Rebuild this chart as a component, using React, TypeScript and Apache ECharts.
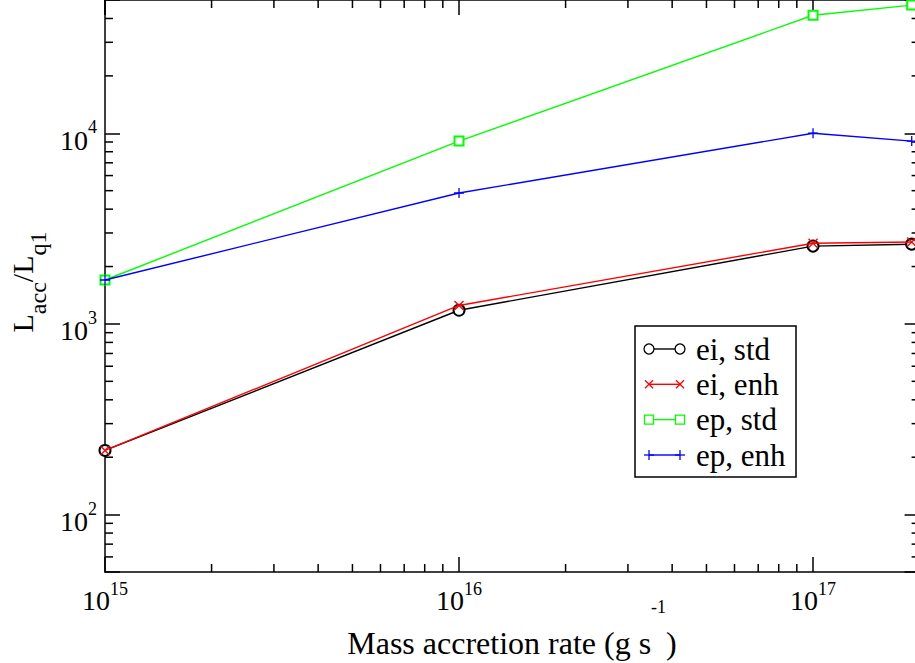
import React, { useEffect, useRef } from "react";
import * as echarts from "echarts";

// ---- data ----
const seriesNames = ["ei, std", "ei, enh", "ep, std", "ep, enh"];
const seriesColors = ["#000000", "#ff0000", "#00ff00", "#0000ff"];
const seriesSymbols = ["circle", "cross", "square", "plus"];
const massRates = [1e15, 1e16, 1e17, 1.9e17];
const eiStd = [217, 1180, 2560, 2620];
const eiEnh = [217, 1250, 2650, 2690];
const epStd = [1700, 9100, 41600, 47000];
const epEnh = [1700, 4860, 10000, 9100];
const seriesValues = [eiStd, eiEnh, epStd, epEnh];

const X_MIN = 1e15;
const X_MAX = 2e17;
const Y_MIN = 50;
const Y_MAX = 50000;
const xMinorTicks = [
  2e15, 3e15, 4e15, 5e15, 6e15, 7e15, 8e15, 9e15,
  2e16, 3e16, 4e16, 5e16, 6e16, 7e16, 8e16, 9e16,
];
const yMinorTicks = [
  60, 70, 80, 90,
  200, 300, 400, 500, 600, 700, 800, 900,
  2000, 3000, 4000, 5000, 6000, 7000, 8000, 9000,
  20000, 30000, 40000,
];

const FONT = "'Liberation Serif', 'Times New Roman', Times, serif";
const W = 925;
const H = 663;
const GRID = { left: 105, top: 0, width: 814.6, height: 572 };

const symbolPaths: Record<string, string> = {
  circle: "emptyCircle",
  cross: "path://M0 0L10 10M10 0L0 10",
  square: "emptyRect",
  plus: "path://M5 0L5 10M0 5L10 5",
};
const symbolSizes: Record<string, number> = { circle: 11, cross: 9, square: 9, plus: 10 };

function isPow10(v: number) {
  const l = Math.log10(v);
  return Math.abs(l - Math.round(l)) < 1e-6;
}

function legendSymbol(kind: string, cx: number, cy: number, color: string): any[] {
  const st = { stroke: color, lineWidth: 1.3, fill: "none" };
  if (kind === "circle") return [{ type: "circle", z: 101, shape: { cx, cy, r: 5 }, style: { ...st, fill: "#fff" } }];
  if (kind === "square") return [{ type: "rect", z: 101, shape: { x: cx - 4.5, y: cy - 4.5, width: 9, height: 9 }, style: { ...st, fill: "#fff" } }];
  if (kind === "cross")
    return [
      { type: "line", z: 101, shape: { x1: cx - 4, y1: cy - 4, x2: cx + 4, y2: cy + 4 }, style: st },
      { type: "line", z: 101, shape: { x1: cx + 4, y1: cy - 4, x2: cx - 4, y2: cy + 4 }, style: st },
    ];
  return [
    { type: "line", z: 101, shape: { x1: cx - 5, y1: cy, x2: cx + 5, y2: cy }, style: st },
    { type: "line", z: 101, shape: { x1: cx, y1: cy - 5, x2: cx, y2: cy + 5 }, style: st },
  ];
}

export default function App() {
  const ref = useRef<HTMLDivElement>(null);
  useEffect(() => {
    if (!ref.current) return;
    const chart = echarts.init(ref.current, undefined, { renderer: "svg", width: W, height: H });

    const axisLine = { show: true, onZero: false, lineStyle: { color: "#000", width: 1.5 } };
    const majorTick = { show: true, inside: true, length: 15, lineStyle: { color: "#000", width: 1.5 } };

    const xLabel = {
      show: true,
      margin: 8,
      color: "#000",
      fontFamily: FONT,
      formatter: (v: number) => (isPow10(v) ? `{b|10}{s|${Math.round(Math.log10(v))}}` : ""),
      rich: {
        b: { fontSize: 28, fontFamily: FONT, color: "#000" },
        s: { fontSize: 18, fontFamily: FONT, color: "#000", padding: [0, 0, 23, 0] },
      },
    };
    const yLabel = {
      show: true,
      margin: 8,
      color: "#000",
      fontFamily: FONT,
      formatter: (v: number) => (isPow10(v) ? `{b|10}{s|${Math.round(Math.log10(v))}}` : ""),
      rich: {
        b: { fontSize: 28, fontFamily: FONT, color: "#000", padding: [14, 0, 0, 0] },
        s: { fontSize: 18, fontFamily: FONT, color: "#000", padding: [0, 0, 12, 0] },
      },
    };

    const lineSeries = seriesNames.map((name, i) => {
      const kind = seriesSymbols[i];
      return {
        name,
        type: "line",
        xAxisIndex: 0,
        yAxisIndex: 0,
        data: massRates.map((x, j) => [x, seriesValues[i][j]]),
        symbol: symbolPaths[kind],
        symbolSize: symbolSizes[kind],
        showAllSymbol: true,
        lineStyle: { color: seriesColors[i], width: 1.4 },
        itemStyle: { color: seriesColors[i], borderColor: seriesColors[i], borderWidth: 1.3 },
        emphasis: { disabled: true },
        z: 3 + i,
      };
    });

    const minorX = {
      type: "custom",
      xAxisIndex: 0,
      yAxisIndex: 0,
      silent: true,
      clip: false,
      data: xMinorTicks.map((v) => [v, Y_MIN]),
      renderItem: (params: any, api: any) => {
        const x = api.coord([api.value(0), Y_MIN])[0];
        const cs = params.coordSys;
        const st = { stroke: "#000", lineWidth: 1.5 };
        return {
          type: "group",
          children: [
            { type: "line", shape: { x1: x, y1: cs.y + cs.height, x2: x, y2: cs.y + cs.height - 8 }, style: st },
            { type: "line", shape: { x1: x, y1: cs.y, x2: x, y2: cs.y + 8 }, style: st },
          ],
        };
      },
      z: 2,
    };
    const minorY = {
      type: "custom",
      xAxisIndex: 0,
      yAxisIndex: 0,
      silent: true,
      clip: false,
      data: yMinorTicks.map((v) => [X_MIN, v]),
      renderItem: (params: any, api: any) => {
        const y = api.coord([X_MIN, api.value(1)])[1];
        const cs = params.coordSys;
        const st = { stroke: "#000", lineWidth: 1.5 };
        return {
          type: "group",
          children: [
            { type: "line", shape: { x1: cs.x, y1: y, x2: cs.x + 8, y2: y }, style: st },
            { type: "line", shape: { x1: cs.x + cs.width, y1: y, x2: cs.x + cs.width - 8, y2: y }, style: st },
          ],
        };
      },
      z: 2,
    };

    // legend built as graphic elements
    const box = { x: 635, y: 326, w: 161, h: 151 };
    const rowY = [349, 384.3, 419.6, 455];
    const legendEls: any[] = [
      { type: "rect", z: 100, shape: { x: box.x, y: box.y, width: box.w, height: box.h }, style: { fill: "#fff", stroke: "#000", lineWidth: 1.5 } },
    ];
    seriesNames.forEach((name, i) => {
      const cy = rowY[i];
      legendEls.push({ type: "line", z: 101, shape: { x1: 649, y1: cy, x2: 680, y2: cy }, style: { stroke: seriesColors[i], lineWidth: 1.4 } });
      legendEls.push(...legendSymbol(seriesSymbols[i], 649, cy, seriesColors[i]));
      legendEls.push(...legendSymbol(seriesSymbols[i], 680, cy, seriesColors[i]));
      legendEls.push({
        type: "text",
        z: 101,
        x: 696,
        y: cy,
        style: {
          text: name,
          align: "left",
          verticalAlign: "middle",
          font: `31px Liberation Serif`,
          fill: "#000",
        },
      });
    });

    chart.setOption({
      animation: false,
      backgroundColor: "#fff",
      grid: { ...GRID, containLabel: false, outerBoundsMode: "none" },
      xAxis: [
        {
          type: "log", logBase: 10, min: X_MIN, max: X_MAX, position: "bottom",
          axisLine, axisTick: majorTick, axisLabel: xLabel, splitLine: { show: false },
        },
        {
          type: "log", logBase: 10, min: X_MIN, max: X_MAX, position: "top",
          axisLine, axisTick: majorTick, axisLabel: { show: false }, splitLine: { show: false },
        },
      ],
      yAxis: [
        {
          type: "log", logBase: 10, min: Y_MIN, max: Y_MAX, position: "left",
          axisLine, axisTick: majorTick, axisLabel: yLabel, splitLine: { show: false },
        },
        {
          type: "log", logBase: 10, min: Y_MIN, max: Y_MAX, position: "right",
          axisLine, axisTick: majorTick, axisLabel: { show: false }, splitLine: { show: false },
        },
      ],
      series: [minorX, minorY, ...lineSeries],
      graphic: [
        {
          type: "text",
          x: 512,
          y: 643,
          style: {
            text: "{t|Mass accretion rate (g s}{s|-1}{t|)}",
            align: "center",
            verticalAlign: "middle",
            rich: {
              t: { fontSize: 32, fontFamily: FONT, fill: "#000", color: "#000" },
              s: { fontSize: 18, fontFamily: FONT, fill: "#000", color: "#000", padding: [0, 0, 72, 0] },
            },
          },
        },
        {
          type: "text",
          x: 22,
          y: 282,
          rotation: Math.PI / 2,
          style: {
            text: "{m|L}{u|acc}{m|/L}{u|q1}",
            align: "center",
            verticalAlign: "middle",
            rich: {
              m: { fontSize: 30, fontFamily: FONT, fill: "#000", color: "#000" },
              u: { fontSize: 24, fontFamily: FONT, fill: "#000", color: "#000", padding: [32, 0, 0, 0] },
            },
          },
        },
        ...legendEls,
      ],
    });
    return () => chart.dispose();
  }, []);
  return (
    <div
      ref={ref}
      style={{ position: "fixed", left: 0, top: 0, width: W, height: H, background: "#fff" }}
    />
  );
}
